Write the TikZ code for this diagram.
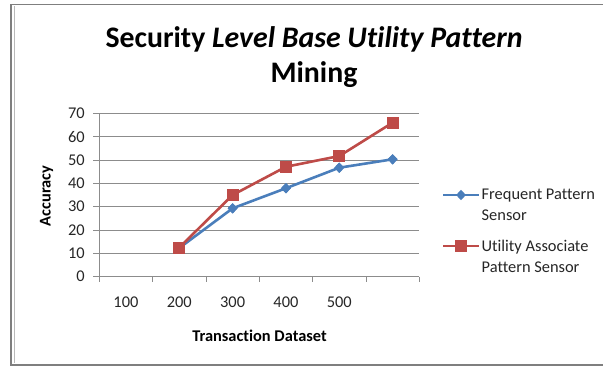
\documentclass[tikz,border=0pt]{standalone}
\usepackage{fontspec}
\setmainfont[Ligatures=NoCommon]{Carlito}
\usetikzlibrary{shapes.geometric}
\definecolor{serblue}{HTML}{4A7EBB}
\definecolor{serred}{HTML}{BE4B48}
\definecolor{gridgray}{HTML}{8C8C8C}
\definecolor{framegray}{HTML}{7F7F7F}
\tikzset{
  gridline/.style={draw=gridgray, line width=0.9pt},
  bline/.style={draw=serblue, line width=2.6pt},
  rline/.style={draw=serred, line width=2.6pt},
  bmark/.style={diamond, fill=serblue, inner sep=0pt, minimum width=10pt, minimum height=10.5pt},
  rmark/.style={rectangle, fill=serred, inner sep=0pt, minimum size=12pt},
  axlab/.style={font=\fontsize{16.4}{18}\selectfont, text=black!85},
  legtext/.style={font=\fontsize{16.4}{20.5}\selectfont, align=left, anchor=west, inner sep=0pt, text=black!85},
  titletext/.style={font=\fontsize{29.8}{35}\selectfont\bfseries, align=center, inner sep=0pt},
  axtitle/.style={font=\fontsize{16.4}{18}\selectfont\bfseries},
}
\begin{document}
\begin{tikzpicture}[x=1pt,y=-1pt]
\useasboundingbox (0,0) rectangle (603,366);
\fill[white] (0,0) rectangle (603,366);
% frame
\draw[framegray, line width=1.3pt] (603,4.8) -- (11,4.8) -- (11,365) -- (603,365);
\draw[gray!55, line width=0.9pt] (14,6.5) -- (14,363.5);
% title
\node[titletext] (title) at (314,57) {Security \textit{Level Base Utility Pattern}\\Mining};
% plot area
\begin{scope}[shift={(99.3,276.7)}, x=53.33pt, y=2.334pt]
  \foreach \v in {10,20,...,70} {
    \draw[gridline] (-0.11,\v) -- (6,\v);
    \node[axlab, anchor=east, inner sep=0pt] (yl\v) at (-0.27,\v) {\v};
  }
  \node[axlab, anchor=east, inner sep=0pt] (yl0) at (-0.27,0) {0};
  \draw[gridline] (0,0) -- (0,70);
  \draw[gridline] (-0.11,0) -- (6,0);
  \foreach \i in {0,...,6} {
    \draw[gridline] (\i,0) -- (\i,-2.2);
  }
  \foreach \i/\t in {0/100,1/200,2/300,3/400,4/500} {
    \node[axlab] (xl\t) at (\i+0.5,-10.9) {\t};
  }
  % blue series
  \node[bmark] (b1) at (1.5,12.3) {};
  \node[bmark] (b2) at (2.5,29.3) {};
  \node[bmark] (b3) at (3.5,37.9) {};
  \node[bmark] (b4) at (4.5,46.7) {};
  \node[bmark] (b5) at (5.5,50.3) {};
  \draw[bline] (b1.center) -- (b2.center) -- (b3.center) -- (b4.center) -- (b5.center);
  \foreach \n in {1,...,5} { \node[bmark] at (b\n) {}; }
  % red series
  \node[rmark] (r1) at (1.5,12.5) {};
  \node[rmark] (r2) at (2.5,35) {};
  \node[rmark] (r3) at (3.5,47.1) {};
  \node[rmark] (r4) at (4.5,51.7) {};
  \node[rmark] (r5) at (5.5,66) {};
  \draw[rline] (r1.center) -- (r2.center) -- (r3.center) -- (r4.center) -- (r5.center);
  \foreach \n in {1,...,5} { \node[rmark] at (r\n) {}; }
\end{scope}
% axis titles
\node[axtitle, rotate=90] (ytitle) at (46.5,196) {Accuracy};
\node[axtitle] (xtitle) at (259.5,336) {Transaction Dataset};
% legend
\coordinate (lb1) at (443,195);
\coordinate (lb2) at (479,195);
\draw[bline] (lb1) -- (lb2);
\node[bmark] (lbm) at (461,195) {};
\node[legtext] (lbt) at (481.5,205) {Frequent Pattern\\Sensor};
\coordinate (lr1) at (443,246);
\coordinate (lr2) at (479,246);
\draw[rline] (lr1) -- (lr2);
\node[rmark] (lrm) at (461,246) {};
\node[legtext] (lrt) at (481.5,256.5) {Utility Associate\\Pattern Sensor};
\end{tikzpicture}
\end{document}
